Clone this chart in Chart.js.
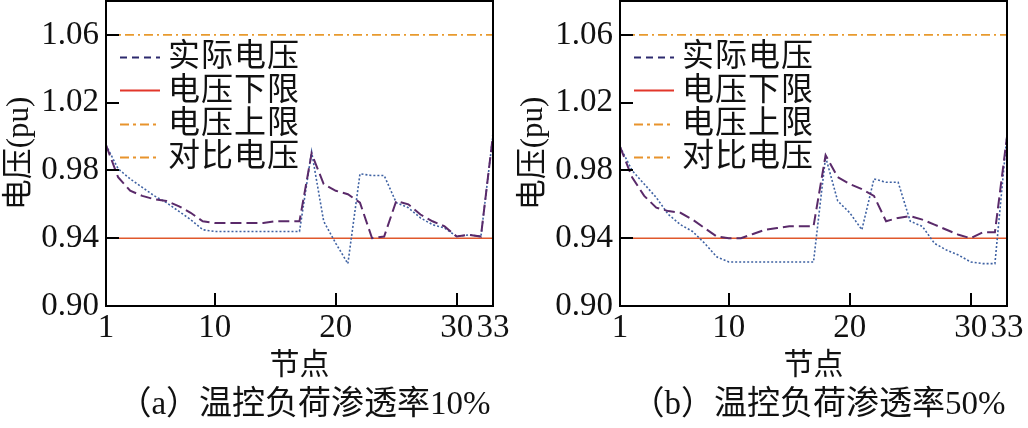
<!DOCTYPE html>
<html>
<head>
<meta charset="utf-8">
<script src="https://cdn.jsdelivr.net/npm/chart.js@4.4.1/dist/chart.umd.min.js"></script>
<style>
  html, body { margin: 0; padding: 0; background: #fff; }
  #wrap { position: relative; width: 1028px; height: 428px; overflow: hidden; background: #fff; }
  canvas { position: absolute; top: 0; }
  #c1 { left: 0; }
  #c2 { left: 514px; }
</style>
</head>
<body>
<div id="wrap">
  <canvas id="c1" width="514" height="428"></canvas>
  <canvas id="c2" width="514" height="428"></canvas>
</div>
<script>
// ---- data ----
const nodes = [1,2,3,4,5,6,7,8,9,10,11,12,13,14,15,16,17,18,19,20,21,22,23,24,25,26,27,28,29,30,31,32,33];

const actualA  = [0.995,0.981,0.975,0.970,0.965,0.961,0.956,0.951,0.945,
                  0.944,0.944,0.944,0.944,0.944,0.944,0.944,0.944,
                  0.991,0.950,0.937,0.925,0.978,0.977,0.977,0.961,0.958,0.952,0.948,0.946,0.941,0.942,0.941,1.001];
const compareA = [0.995,0.976,0.968,0.965,0.963,0.962,0.959,0.955,0.950,
                  0.949,0.949,0.949,0.949,0.949,0.950,0.950,0.950,
                  0.990,0.972,0.968,0.966,0.961,0.940,0.941,0.962,0.960,0.954,0.950,0.947,0.941,0.942,0.941,1.001];

const actualB  = [0.994,0.980,0.972,0.964,0.954,0.948,0.944,0.937,0.929,
                  0.926,0.926,0.926,0.926,0.926,0.926,0.926,0.926,
                  0.988,0.962,0.955,0.945,0.975,0.973,0.973,0.950,0.947,0.937,0.933,0.930,0.926,0.925,0.925,1.001];
const compareB = [0.994,0.976,0.965,0.958,0.956,0.955,0.951,0.946,0.941,
                  0.940,0.940,0.9425,0.945,0.946,0.947,0.947,0.947,
                  0.989,0.976,0.972,0.969,0.965,0.950,0.952,0.953,0.951,0.948,0.945,0.942,0.940,0.9435,0.9435,1.000];

const lowerLimit = 0.94;
const upperLimit = 1.06;

const xTickLabels = [1, 10, 20, 30, 33];
const yTickLabels = [0.90, 0.94, 0.98, 1.02, 1.06];
const xTickMarks = [10, 20, 30];
const yTickMarks = [0.94, 0.98, 1.02, 1.06];

const legendLabels = ['实际电压', '电压下限', '电压上限', '对比电压'];
const captions = ['（a）温控负荷渗透率10%', '（b）温控负荷渗透率50%'];
const xTitle = '节点';
const yTitle = '电压(pu)';

// ---- styles ----
const FONT = "'Liberation Serif', 'Noto Sans CJK SC', serif";
const legendStyles = [
  { color: '#2d2a6e', dash: [7, 5], width: 2 },
  { color: '#e2372b', dash: [], width: 2 },
  { color: '#e8932c', dash: [9, 4, 3, 4], width: 2 },
  { color: '#e8932c', dash: [9, 4, 3, 4], width: 2 }
];

const framePlugin = {
  id: 'frame',
  afterDatasetsDraw(chart, args, opts) {
    const { ctx, chartArea: a, scales: { x, y } } = chart;
    ctx.save();
    // frame
    ctx.strokeStyle = '#000';
    ctx.lineWidth = 2;
    ctx.setLineDash([]);
    ctx.strokeRect(a.left, a.top, a.right - a.left, a.bottom - a.top);
    // inward tick marks
    ctx.beginPath();
    yTickMarks.forEach(v => {
      const py = Math.round(y.getPixelForValue(v));
      ctx.moveTo(a.left, py); ctx.lineTo(a.left + 13, py);
    });
    xTickMarks.forEach(v => {
      const px = Math.round(x.getPixelForValue(v));
      ctx.moveTo(px, a.bottom); ctx.lineTo(px, a.bottom - 13);
    });
    ctx.stroke();
    // legend
    const lx0 = a.left + 14, lx1 = a.left + 54, tx = a.left + 62;
    const y0 = a.top + 56, step = 33.3;
    ctx.font = "32px " + FONT;
    ctx.textBaseline = 'middle';
    ctx.textAlign = 'left';
    legendLabels.forEach((lab, i) => {
      const st = legendStyles[i];
      const ly = y0 + i * step;
      ctx.strokeStyle = st.color;
      ctx.lineWidth = st.width;
      ctx.setLineDash(st.dash);
      ctx.beginPath();
      ctx.moveTo(lx0, Math.round(ly) + 0.5); ctx.lineTo(lx1, Math.round(ly) + 0.5);
      ctx.stroke();
      ctx.fillStyle = '#111';
      let cx = tx;
      for (const ch of lab) { ctx.fillText(ch, cx, ly + 1); cx += 33; }
    });
    ctx.setLineDash([]);
    // caption
    ctx.font = "33px " + FONT;
    ctx.textAlign = 'center';
    ctx.textBaseline = 'middle';
    ctx.fillStyle = '#111';
    ctx.fillText(opts.caption, (a.left + a.right) / 2 + 5, 405);
    ctx.restore();
  }
};

function makeChart(id, actual, compare, caption) {
  const pts = arr => nodes.map((n, i) => ({ x: n, y: arr[i] }));
  const flat = v => [{ x: nodes[0], y: v }, { x: nodes[nodes.length - 1], y: v }];
  return new Chart(document.getElementById(id), {
    type: 'line',
    data: {
      datasets: [
        { label: '电压下限', data: flat(lowerLimit), borderColor: '#e0582c', borderWidth: 1.6, pointRadius: 0, order: 3 },
        { label: '电压上限', data: flat(upperLimit), borderColor: '#e89a2e', borderWidth: 1.6, borderDash: [9, 4, 2, 4], pointRadius: 0, order: 3 },
        { label: '实际电压', data: pts(actual), borderColor: '#3f62a3', borderWidth: 1.6, borderDash: [2, 2], pointRadius: 0, tension: 0, order: 2 },
        { label: '对比电压', data: pts(compare), borderColor: '#5a2a6a', borderWidth: 2, borderDash: [11, 5], pointRadius: 0, tension: 0, order: 1 }
      ]
    },
    options: {
      responsive: false,
      animation: false,
      devicePixelRatio: 1,
      layout: { padding: { left: 0, right: 21, top: 1, bottom: 0 } },
      plugins: {
        legend: { display: false },
        tooltip: { enabled: false },
        frame: { caption: caption }
      },
      scales: {
        x: {
          type: 'linear',
          min: 1, max: 33,
          grid: { display: false, drawTicks: false },
          border: { display: false },
          afterBuildTicks: s => { s.ticks = xTickLabels.map(v => ({ value: v })); },
          afterFit: s => { s.height = 122; s.paddingLeft = 0; s.paddingRight = 0; },
          ticks: {
            autoSkip: false, maxRotation: 0, minRotation: 0, padding: 3,
            color: '#111',
            font: { family: FONT, size: 33 },
            callback: v => String(v)
          },
          title: {
            display: true, text: xTitle, color: '#111',
            font: { family: FONT, size: 30 },
            padding: { top: 0, bottom: 44 }
          }
        },
        y: {
          min: 0.90, max: 1.08,
          grid: { display: false, drawTicks: false },
          border: { display: false },
          afterBuildTicks: s => { s.ticks = yTickLabels.map(v => ({ value: v })); },
          afterFit: s => { s.width = 106; s.paddingTop = 0; s.paddingBottom = 0; },
          ticks: {
            padding: 7, color: '#111',
            font: { family: FONT, size: 33 },
            callback: v => Number(v).toFixed(2)
          },
          title: {
            display: true, text: yTitle, color: '#111',
            font: { family: FONT, size: 31 },
            padding: { top: 1, bottom: 0 }
          }
        }
      }
    },
    plugins: [framePlugin]
  });
}

makeChart('c1', actualA, compareA, captions[0]);
makeChart('c2', actualB, compareB, captions[1]);
</script>
</body>
</html>
